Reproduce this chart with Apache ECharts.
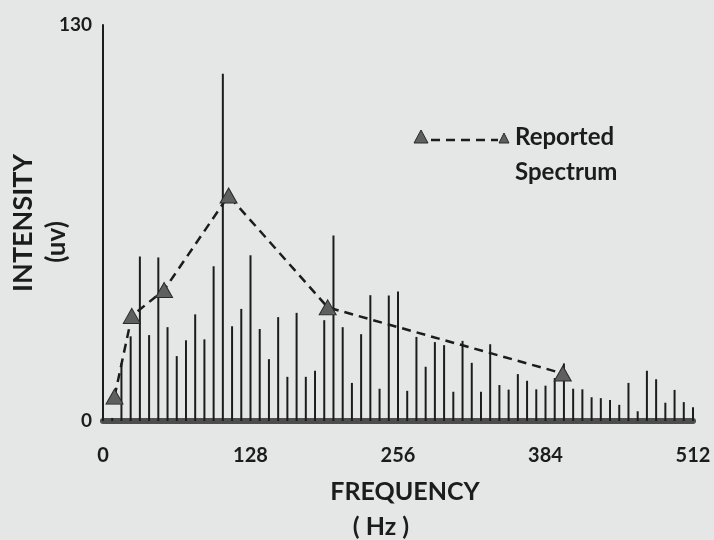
<!DOCTYPE html>
<html>
<head>
<meta charset="utf-8">
<script src="https://cdn.jsdelivr.net/npm/echarts@6/dist/echarts.min.js"></script>
<style>
  html, body { margin: 0; padding: 0; background: #e4e7e5; }
  #chart { width: 714px; height: 540px; }
</style>
</head>
<body>
<div id="chart"></div>
<script>
// Spectrum lines: frequency (Hz) and intensity (uV)
const frequencies = [
  0, 8, 16, 24, 32, 40, 48, 56, 64, 72,
  80, 88, 96, 104, 112, 120, 128, 136, 144, 152,
  160, 168, 176, 184, 192, 200, 208, 216, 224, 232,
  240, 248, 256, 264, 272, 280, 288, 296, 304, 312,
  320, 328, 336, 344, 352, 360, 368, 376, 384, 392,
  400, 408, 416, 424, 432, 440, 448, 456, 464, 472,
  480, 488, 496, 504, 512
];
const intensities = [
  7.2, 1.0, 19.0, 27.8, 54.0, 28.2, 53.7, 30.8, 21.3, 26.5,
  35.0, 26.8, 50.8, 114.0, 31.1, 36.8, 54.4, 30.2, 20.3, 34.1,
  14.5, 35.5, 14.5, 16.5, 33.1, 60.9, 30.8, 12.5, 28.5, 41.3,
  10.6, 41.2, 42.5, 9.9, 27.6, 17.8, 25.9, 24.9, 9.6, 26.3,
  19.1, 9.6, 25.2, 11.8, 10.3, 15.4, 13.2, 10.4, 11.6, 14.1,
  18.9, 10.6, 10.4, 7.8, 7.5, 6.9, 5.3, 12.5, 3.2, 16.5,
  13.7, 6.0, 10.2, 6.2, 4.5
];
// Reported spectrum (triangles)
const reportedFreq = [10, 25, 53, 109, 195, 399];
const reportedValue = [8, 34.5, 43, 74, 37.3, 15.6];
// Axis tick labels
const xTicks = [0, 128, 256, 384, 512];
const yTicks = [0, 130];

const FONT = 'Lato';
const INK = '#1c1c1c';

const chart = echarts.init(document.getElementById('chart'), null, { renderer: 'canvas' });

const option = {
  backgroundColor: '#e4e7e5',
  animation: false,
  grid: { left: 103, right: 21, top: 25, bottom: 119, containLabel: false, outerBoundsMode: 'none' },
  xAxis: {
    type: 'value',
    min: xTicks[0],
    max: xTicks[xTicks.length - 1],
    interval: 128,
    offset: 3,
    axisLine: { show: true, lineStyle: { color: '#4d4d4d', width: 6 } },
    axisTick: { show: false },
    splitLine: { show: false },
    axisLabel: {
      margin: 22,
      color: INK,
      fontFamily: FONT,
      fontWeight: 'bold',
      fontSize: 20,
      customValues: xTicks
    },
    name: '{a|FREQUENCY}\n{b|( Hz )}',
    nameLocation: 'middle',
    nameGap: 50,
    nameMoveOverlap: false,
    nameTextStyle: {
      color: INK, fontFamily: FONT, fontWeight: 'bold', fontSize: 25, lineHeight: 35,
      rich: {
        a: { color: INK, fontFamily: FONT, fontWeight: 'bold', fontSize: 25, lineHeight: 35, padding: [0, 0, 0, 14] },
        b: { color: INK, fontFamily: FONT, fontWeight: 'bold', fontSize: 25, lineHeight: 35, padding: [0, 34, 0, 0] }
      }
    }
  },
  yAxis: {
    type: 'value',
    min: yTicks[0],
    max: yTicks[1],
    interval: 130,
    offset: 4,
    axisLine: { show: true, lineStyle: { color: INK, width: 2 } },
    axisTick: { show: false },
    splitLine: { show: false },
    axisLabel: {
      margin: 7,
      color: INK,
      fontFamily: FONT,
      fontWeight: 'bold',
      fontSize: 19,
      formatter: function (v) { return String(v); }
    },
    name: '{a|INTENSITY}\n{b|(uv)}',
    nameLocation: 'middle',
    nameRotate: 90,
    nameGap: 25,
    nameMoveOverlap: false,
    nameTextStyle: {
      color: INK, fontFamily: FONT, fontWeight: 'bold', fontSize: 27, lineHeight: 34,
      rich: {
        a: { color: INK, fontFamily: FONT, fontWeight: 'bold', fontSize: 27, lineHeight: 34 },
        b: { color: INK, fontFamily: FONT, fontWeight: 'bold', fontSize: 26, lineHeight: 34, padding: [0, 38, 0, 0] }
      }
    }
  },
  series: [
    {
      name: 'Spectrum',
      type: 'bar',
      barWidth: 2,
      itemStyle: { color: INK },
      data: frequencies.map((f, i) => [f, intensities[i]]),
      z: 2
    },
    {
      name: 'Reported Spectrum',
      type: 'line',
      data: reportedFreq.map((f, i) => [f, reportedValue[i]]),
      symbol: 'triangle',
      symbolSize: [17, 15],
      showAllSymbol: true,
      lineStyle: { color: INK, width: 2.5, type: [9, 6] },
      itemStyle: { color: '#5f5f5f', borderColor: '#2a2a2a', borderWidth: 1 },
      z: 3
    }
  ],
  graphic: [
    {
      type: 'polygon',
      shape: { points: [[421, 130], [414, 143], [428, 143]] },
      style: { fill: '#5f5f5f', stroke: '#2a2a2a', lineWidth: 1 }
    },
    {
      type: 'line',
      shape: { x1: 431, y1: 140, x2: 498, y2: 140 },
      style: { stroke: INK, lineWidth: 2.5, lineDash: [9, 6] }
    },
    {
      type: 'polygon',
      shape: { points: [[504, 133], [499, 143], [509, 143]] },
      style: { fill: '#5f5f5f', stroke: '#2a2a2a', lineWidth: 1 }
    },
    {
      type: 'text',
      left: 515, top: 125,
      style: { text: 'Reported', fill: INK, font: 'bold 24px Lato' }
    },
    {
      type: 'text',
      left: 515, top: 160,
      style: { text: 'Spectrum', fill: INK, font: 'bold 24px Lato' }
    }
  ]
};

chart.setOption(option);
</script>
</body>
</html>
